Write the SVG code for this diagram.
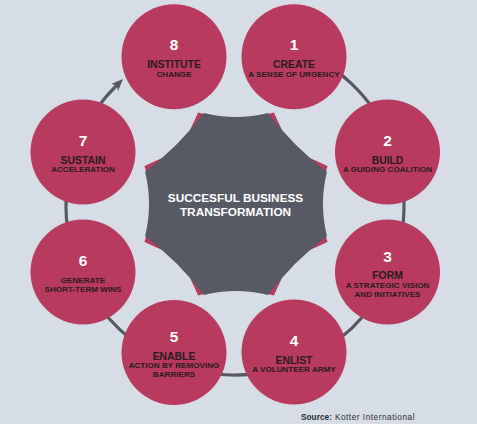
<svg xmlns="http://www.w3.org/2000/svg" width="477" height="424" viewBox="0 0 477 424">
<style>
.bg{fill:#d7dde6}
.c{fill:#b83a5e}
.num{font-family:"Liberation Sans",Arial,sans-serif;font-weight:bold;font-size:15.5px;fill:#ffffff;text-anchor:middle}
.t{font-family:"Liberation Sans",Arial,sans-serif;font-weight:bold;font-size:10.4px;fill:#2a1b22;text-anchor:middle}
.s{font-family:"Liberation Sans",Arial,sans-serif;font-weight:bold;font-size:8.1px;fill:#2a1b22;text-anchor:middle}
.ctr{font-family:"Liberation Sans",Arial,sans-serif;font-weight:bold;font-size:11.8px;fill:#ffffff;text-anchor:middle}
.ring{fill:none;stroke:#555963;stroke-width:3.2}
.src{font-family:"Liberation Sans",Arial,sans-serif;font-size:8.3px;fill:#2b2b30}
</style>
<defs>
<marker id="arr" viewBox="0 0 12 10" refX="3" refY="5" markerWidth="12" markerHeight="10" markerUnits="userSpaceOnUse" orient="auto">
<path d="M0,0 L12,5 L0,10 L3,5 Z" fill="#555963"/>
</marker>
</defs>
<rect class="bg" x="0" y="0" width="477" height="424"/>
<g id="connectors">
<path class="ring" d="M292.8,47.2 A169,169 0 1 1 116.65,85.37" marker-end="url(#arr)"/>
</g>
<g id="center">
<polygon class="c" points="327.46,241.89 290.77,258.77 273.89,295.46 236,285.46 198.11,295.46 181.23,258.77 144.54,241.89 154.54,204 144.54,166.11 181.23,149.23 198.11,112.54 236,122.54 273.89,112.54 290.77,149.23 327.46,166.11 317.46,204"/>
<path fill="#575a65" d="M203.79,113.04 Q236,121.04 268.21,113.04 Q293.34,146.66 326.96,171.79 Q318.96,204 326.96,236.21 Q293.34,261.34 268.21,294.96 Q236,286.96 203.79,294.96 Q178.66,261.34 145.04,236.21 Q153.04,204 145.04,171.79 Q178.66,146.66 203.79,113.04 Z"/>
<text class="ctr" x="235.5" y="201.7">SUCCESFUL BUSINESS</text>
<text class="ctr" x="235.5" y="216">TRANSFORMATION</text>
</g>
<g id="step1">
<circle class="c" cx="294" cy="56.7" r="52.5"/>
<text class="num" x="294" y="50">1</text>
<text class="t" x="294" y="68.3">CREATE</text>
<text class="s" x="294" y="76.7">A SENSE OF URGENCY</text>
</g>
<g id="step2">
<circle class="c" cx="387.5" cy="152" r="52.5"/>
<text class="num" x="387.5" y="146">2</text>
<text class="t" x="387.5" y="164">BUILD</text>
<text class="s" x="387.5" y="172.3">A GUIDING COALITION</text>
</g>
<g id="step3">
<circle class="c" cx="387.5" cy="272" r="52.5"/>
<text class="num" x="387.5" y="261.7">3</text>
<text class="t" x="387.5" y="279.3">FORM</text>
<text class="s" x="387.5" y="288">A STRATEGIC VISION</text>
<text class="s" x="387.5" y="297">AND INITIATIVES</text>
</g>
<g id="step4">
<circle class="c" cx="294" cy="352" r="52.5"/>
<text class="num" x="294" y="345.7">4</text>
<text class="t" x="294" y="363.7">ENLIST</text>
<text class="s" x="294" y="371.7">A VOLUNTEER ARMY</text>
</g>
<g id="step5">
<circle class="c" cx="174" cy="352.5" r="52.5"/>
<text class="num" x="174" y="341.7">5</text>
<text class="t" x="174" y="359.7">ENABLE</text>
<text class="s" x="174" y="368.3">ACTION BY REMOVING</text>
<text class="s" x="174" y="377">BARRIERS</text>
</g>
<g id="step6">
<circle class="c" cx="83" cy="272" r="52.5"/>
<text class="num" x="83" y="265.7">6</text>
<text class="s" x="83" y="283.3">GENERATE</text>
<text class="s" x="83" y="292.3">SHORT-TERM WINS</text>
</g>
<g id="step7">
<circle class="c" cx="83" cy="152" r="52.5"/>
<text class="num" x="83" y="145.7">7</text>
<text class="t" x="83" y="164">SUSTAIN</text>
<text class="s" x="83" y="172.3">ACCELERATION</text>
</g>
<g id="step8">
<circle class="c" cx="174" cy="56.7" r="52.5"/>
<text class="num" x="174" y="50">8</text>
<text class="t" x="174" y="68.3">INSTITUTE</text>
<text class="s" x="174" y="76.7">CHANGE</text>
</g>
<text class="src" x="301" y="420"><tspan font-weight="bold">Source:</tspan><tspan dx="3" letter-spacing="0.5">Kotter International</tspan></text>
</svg>
